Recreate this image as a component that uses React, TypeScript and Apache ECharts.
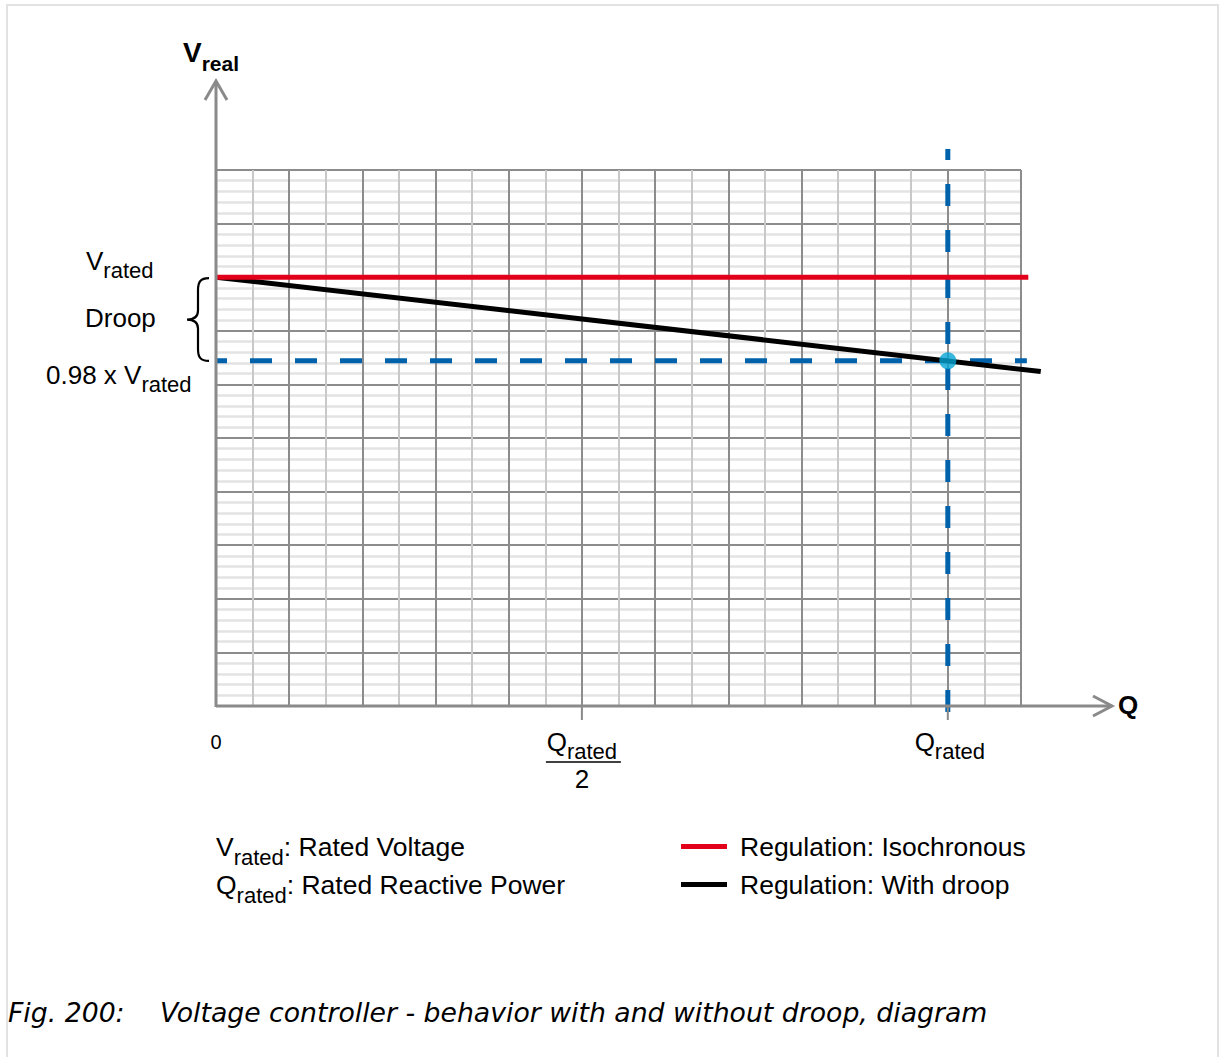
import React, { useEffect, useRef } from "react";
import * as echarts from "echarts";

// ---- data (Q in units where Q_rated = 10, V in units where V_rated = 8) ----
const xGridMax = 11;
const yGridMax = 10;
const qRated = 10;
const vRated = 8;
const vDroop = 6.44; // 0.98 x V_rated reached at Q_rated
const isochronousData = [[0, 8], [11.1, 8]];
const withDroopData = [[0, 8], [11.27, 6.24]];
const droopRefHData = [[0, 6.44], [11.08, 6.44]];
const droopRefVData = [[10, 10.39], [10, -0.11]];
const operatingPointData = [[10, 6.44]];
const xTickValues = [5, 10];
const seriesNames = ["Regulation: Isochronous", "Regulation: With droop"];

const FONT = "'Liberation Sans', Arial, Helvetica, sans-serif";
const CAPTION_FONT = "'DejaVu Sans', sans-serif";
const GRID_DARK = "#8c8c8c";
const AXIS = "#8a8a8a";
const BLUE = "#0062aa";

// paper grid geometry (grid 0) and an overlay grid (grid 1) with the same scale but a wider range
const G = { left: 216, top: 170, width: 805, height: 536 };
const ovXMax = 12;
const ovYMin = -1;
const ovYMax = 12;
const unitX = G.width / xGridMax;
const unitY = G.height / yGridMax;
const G2 = {
  left: G.left,
  top: G.top - (ovYMax - yGridMax) * unitY,
  width: ovXMax * unitX,
  height: (ovYMax - ovYMin) * unitY,
};

const mctx = typeof document !== "undefined" ? document.createElement("canvas").getContext("2d") : null;
function tw(text: string, size: number, weight = "normal", family = FONT, style = "normal") {
  if (!mctx) return text.length * size * 0.55;
  mctx.font = `${style} ${weight} ${size}px ${family}`;
  return mctx.measureText(text).width;
}

function txt(x: number, y: number, text: string, size: number, opts: any = {}) {
  const align = opts.align || "left";
  return {
    type: "text",
    x,
    y,
    silent: true,
    z: 100,
    style: {
      text,
      fontSize: size,
      fontFamily: opts.family || FONT,
      fontWeight: opts.weight || "normal",
      fontStyle: opts.fontStyle || "normal",
      fill: "#000",
      align,
      textAlign: align,
      verticalAlign: "middle",
      textVerticalAlign: "middle",
    },
  };
}

function subText(x: number, y: number, main: string, sub: string, rest: string, size: number, subSize: number, weight = "normal", subDy = 9) {
  const els: any[] = [];
  const w1 = tw(main, size, weight);
  els.push(txt(x, y, main, size, { weight }));
  const w2 = tw(sub, subSize, weight);
  els.push(txt(x + w1, y + subDy, sub, subSize, { weight }));
  if (rest) els.push(txt(x + w1 + w2, y, rest, size, { weight }));
  return els;
}
function subWidth(main: string, sub: string, size: number, subSize: number, weight = "normal") {
  return tw(main, size, weight) + tw(sub, subSize, weight);
}

echarts.graphic.registerShape(
  "brace",
  echarts.graphic.extendPath(
    "M 24 0 C 15 0 13 4 13 12 L 13 32 C 13 38 9 41 2 41 C 9 41 13 44 13 50 L 13 70 C 13 78 15 82 24 82",
    {}
  )
);

export default function App() {
  const ref = useRef<HTMLDivElement>(null);
  useEffect(() => {
    if (!ref.current) return;
    const chart = echarts.init(ref.current, null, { renderer: "svg" });
    const lineBase = { type: "line", symbol: "none", clip: false, silent: true, xAxisIndex: 1, yAxisIndex: 1 };
    const hiddenAxis = { type: "value", show: false, gridIndex: 1, splitLine: { show: false }, axisLine: { show: false }, axisTick: { show: false }, axisLabel: { show: false } };
    chart.setOption({
      animation: false,
      backgroundColor: "#fff",
      grid: [
        { ...G, containLabel: false },
        { ...G2, containLabel: false },
      ],
      legend: {
        data: seriesNames,
        orient: "vertical",
        left: 681,
        top: 833,
        padding: 0,
        icon: "rect",
        itemWidth: 46,
        itemHeight: 5,
        itemGap: 11,
        selectedMode: false,
        textStyle: { fontSize: 26.5, fontFamily: FONT, color: "#000", padding: [0, 0, 0, 8] },
      },
      xAxis: [
        {
          type: "value",
          gridIndex: 0,
          min: 0,
          max: xGridMax,
          interval: 1,
          axisLine: { show: false },
          axisTick: { show: false },
          axisLabel: { show: false },
          splitLine: { show: true, lineStyle: { color: GRID_DARK, width: 2 } },
          minorTick: { show: false, splitNumber: 2 },
          minorSplitLine: { show: true, lineStyle: { color: "#c8c8c8", width: 2 } },
        },
        { ...hiddenAxis, min: 0, max: ovXMax },
      ],
      yAxis: [
        {
          type: "value",
          gridIndex: 0,
          min: 0,
          max: yGridMax,
          interval: 1,
          axisLine: { show: false },
          axisTick: { show: false },
          axisLabel: { show: false },
          splitLine: { show: true, lineStyle: { color: GRID_DARK, width: 2 } },
          minorTick: { show: false, splitNumber: 5 },
          minorSplitLine: { show: true, lineStyle: { color: "#e3e3e3", width: 2.5 } },
        },
        { ...hiddenAxis, min: ovYMin, max: ovYMax },
      ],
      series: [
        { ...lineBase, name: "refH", data: droopRefHData, z: 3, lineStyle: { color: BLUE, width: 5, type: [22, 23], dashOffset: 11 } },
        { ...lineBase, name: "refV", data: droopRefVData, z: 3, lineStyle: { color: BLUE, width: 5, type: [22, 24], dashOffset: 11 } },
        { ...lineBase, name: seriesNames[1], data: withDroopData, z: 4, color: "#000", lineStyle: { color: "#000", width: 5 } },
        { ...lineBase, name: seriesNames[0], data: isochronousData, z: 5, color: "#e2001a", lineStyle: { color: "#e2001a", width: 5 } },
        { type: "scatter", name: "point", xAxisIndex: 1, yAxisIndex: 1, data: operatingPointData, symbolSize: 17, z: 6, silent: true, itemStyle: { color: "#05a5d5" } },
      ],
    });

    const px = (x: number, y: number) => chart.convertToPixel({ gridIndex: 0 }, [x, y]) as number[];
    const [x0, y0] = px(0, 0);
    const [, yTop] = px(0, yGridMax);
    const [, yV] = px(0, vRated);
    const [, yD] = px(0, vDroop);
    const [xHalf] = px(qRated / 2, 0);
    const [xQ] = px(qRated, 0);

    const g: any[] = [];
    g.push({ type: "rect", silent: true, z: -1, shape: { x: 7, y: 5, width: 1211, height: 1100 }, style: { fill: "none", stroke: "#e2e2e2", lineWidth: 2 } });
    const axisStyle = { stroke: AXIS, lineWidth: 3, fill: "none" };
    g.push({ type: "line", silent: true, z: 50, shape: { x1: x0, y1: y0 + 1, x2: x0, y2: yTop - 89 }, style: axisStyle });
    g.push({ type: "polyline", silent: true, z: 50, shape: { points: [[x0 - 11, yTop - 70], [x0, yTop - 89], [x0 + 11, yTop - 70]] }, style: axisStyle });
    g.push({ type: "line", silent: true, z: 50, shape: { x1: x0, y1: y0, x2: x0 + 896, y2: y0 }, style: axisStyle });
    g.push({ type: "polyline", silent: true, z: 50, shape: { points: [[x0 + 877, y0 - 10], [x0 + 896, y0], [x0 + 877, y0 + 10]] }, style: axisStyle });
    xTickValues.forEach((v) => {
      const [xx] = px(v, 0);
      g.push({ type: "line", silent: true, z: 50, shape: { x1: xx, y1: y0, x2: xx, y2: y0 + 14 }, style: { stroke: AXIS, lineWidth: 2 } });
    });
    // axis titles
    g.push(...subText(x0 - 33, yTop - 118, "V", "real", "", 28, 21, "bold", 11));
    g.push(txt(x0 + 902, y0 - 1, "Q", 26, { weight: "bold" }));
    // y annotations
    g.push(...subText(x0 - 130, yV - 16, "V", "rated", "", 26, 22, "normal", 9));
    g.push(txt(x0 - 131, (yV + yD) / 2 - 1, "Droop", 26));
    g.push(...subText(x0 - 170, yD + 14, "0.98 x V", "rated", "", 26, 22, "normal", 10));
    g.push({ type: "brace", silent: true, z: 60, x: x0 - 31, y: yV + 1, scaleY: (yD - yV - 1) / 82, style: { fill: "none", stroke: "#000", lineWidth: 2.2 } });
    // x annotations
    g.push(txt(x0, y0 + 36, "0", 20, { align: "center" }));
    const wq = subWidth("Q", "rated", 26, 22);
    g.push(...subText(xHalf - wq / 2, y0 + 36, "Q", "rated", "", 26, 22, "normal", 9));
    g.push({ type: "line", silent: true, z: 60, shape: { x1: xHalf - 36, y1: y0 + 56, x2: xHalf + 39, y2: y0 + 56 }, style: { stroke: "#000", lineWidth: 1.5 } });
    g.push(txt(xHalf, y0 + 73, "2", 26, { align: "center" }));
    g.push(...subText(xQ - wq / 2 + 2, y0 + 36, "Q", "rated", "", 26, 22, "normal", 9));
    // definitions
    g.push(...subText(x0, 847, "V", "rated", ": Rated Voltage", 26.5, 22, "normal", 10));
    g.push(...subText(x0, 885, "Q", "rated", ": Rated Reactive Power", 26.5, 22, "normal", 10));
    // caption
    g.push(txt(8, 1012, "Fig. 200:", 26.7, { family: CAPTION_FONT, fontStyle: "italic" }));
    g.push(txt(160, 1012, "Voltage controller - behavior with and without droop, diagram", 26.7, { family: CAPTION_FONT, fontStyle: "italic" }));

    chart.setOption({ graphic: g });
    return () => chart.dispose();
  }, []);
  return <div ref={ref} style={{ position: "absolute", left: 0, top: 0, width: 1226, height: 1057 }} />;
}
